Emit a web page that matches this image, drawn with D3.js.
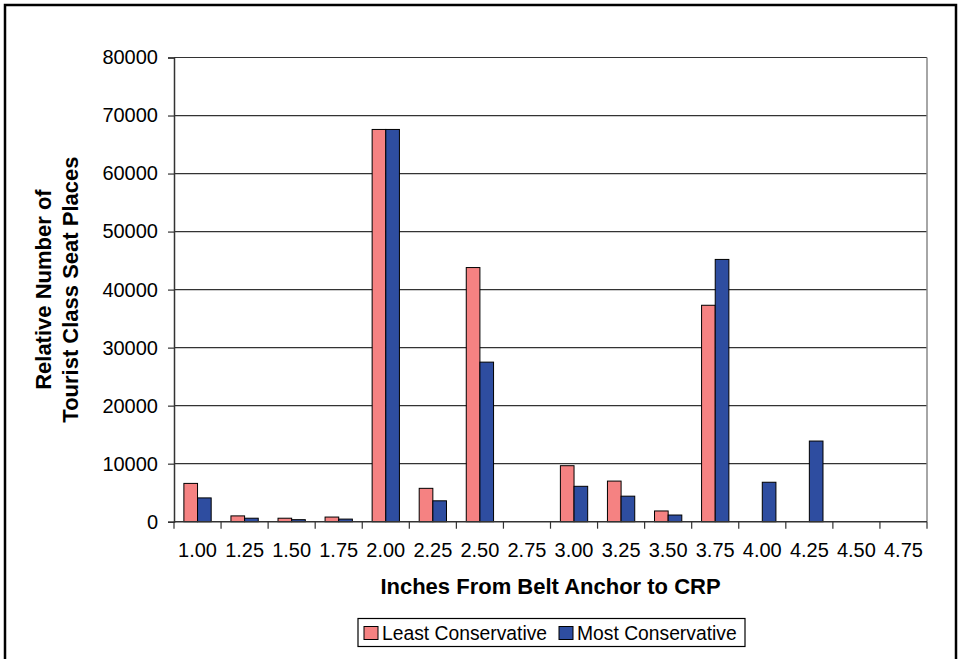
<!DOCTYPE html>
<html>
<head>
<meta charset="utf-8">
<script src="https://cdn.jsdelivr.net/npm/d3@7"></script>
<style>
  html, body { margin: 0; padding: 0; background: #fff; }
  svg { display: block; font-family: "Liberation Sans", Arial, sans-serif; }
</style>
</head>
<body>
<svg id="chart" width="961" height="659"></svg>
<script>
const categories = ["1.00","1.25","1.50","1.75","2.00","2.25","2.50","2.75","3.00","3.25","3.50","3.75","4.00","4.25","4.50","4.75"];
const seriesNames = ["Least Conservative", "Most Conservative"];
const leastConservative = [6600, 1000, 600, 800, 67600, 5750, 43800, 0, 9650, 7000, 1850, 37300, 0, 0, 0, 0];
const mostConservative  = [4100, 600, 350, 450, 67600, 3600, 27500, 0, 6100, 4400, 1150, 45200, 6800, 13900, 0, 0];
const yTicks = [0, 10000, 20000, 30000, 40000, 50000, 60000, 70000, 80000];
const colors = ["#F58282", "#2E4DA0"];

const svg = d3.select("#chart");
const W = 961, H = 659;
const plot = { left: 174, right: 927, top: 57.5, bottom: 521.7 };

// outer border
svg.append("rect").attr("x", 5).attr("y", 5).attr("width", W - 10).attr("height", H + 20)
  .attr("fill", "#fff").attr("stroke", "#000").attr("stroke-width", 2.5);

const x0 = d3.scaleBand().domain(categories).range([plot.left, plot.right]).padding(0);
const bw = x0.bandwidth();
const x1 = d3.scaleBand().domain(seriesNames).range([bw * 0.21, bw * 0.79]).padding(0);
const y = d3.scaleLinear().domain([0, 80000]).range([plot.bottom, plot.top]);

// gridlines
svg.append("g").selectAll("line").data(yTicks.filter(d => d > 0)).join("line")
  .attr("x1", plot.left).attr("x2", plot.right)
  .attr("y1", d => y(d)).attr("y2", d => y(d))
  .attr("stroke", "#333").attr("stroke-width", 1.2);

// plot border right
svg.append("line").attr("x1", plot.right).attr("x2", plot.right)
  .attr("y1", plot.top).attr("y2", plot.bottom).attr("stroke", "#888").attr("stroke-width", 1.5);

// bars
const data = categories.map((c, i) => ({ cat: c, vals: [leastConservative[i], mostConservative[i]] }));
const groups = svg.append("g").selectAll("g").data(data).join("g")
  .attr("transform", d => `translate(${x0(d.cat)},0)`);
groups.selectAll("rect")
  .data(d => d.vals.map((v, j) => ({ v, s: seriesNames[j], j })).filter(e => e.v > 0))
  .join("rect")
  .attr("x", e => x1(e.s))
  .attr("width", x1.bandwidth())
  .attr("y", e => y(e.v))
  .attr("height", e => y(0) - y(e.v))
  .attr("fill", e => colors[e.j])
  .attr("stroke", "#000").attr("stroke-width", 1);

// y axis
const yAxis = d3.axisLeft(y).tickValues(yTicks).tickSize(6).tickPadding(10).tickFormat(d3.format("d"));
const gy = svg.append("g").attr("transform", `translate(${plot.left},0)`).call(yAxis);
gy.select(".domain").attr("stroke", "#333").attr("stroke-width", 1.5);
gy.selectAll(".tick line").attr("stroke", "#333").attr("stroke-width", 1.2);
gy.selectAll(".tick text").attr("font-size", "20px").attr("fill", "#000")
  .attr("font-family", "'Liberation Sans', Arial, sans-serif");

// x axis (ticks at category boundaries)
const gx = svg.append("g").attr("transform", `translate(0,${plot.bottom})`);
gx.append("line").attr("x1", plot.left).attr("x2", plot.right).attr("y1", 0).attr("y2", 0)
  .attr("stroke", "#333").attr("stroke-width", 1.5);
const boundaries = categories.map(c => x0(c)).concat([plot.right]);
gx.selectAll("line.tk").data(boundaries).join("line").attr("class", "tk")
  .attr("x1", d => d).attr("x2", d => d).attr("y1", 0).attr("y2", 7)
  .attr("stroke", "#333").attr("stroke-width", 1.2);
gx.selectAll("text").data(categories).join("text")
  .attr("x", d => x0(d) + bw / 2).attr("y", 35)
  .attr("text-anchor", "middle").attr("font-size", "20px").attr("fill", "#000")
  .text(d => d);

// axis titles
svg.append("text").attr("x", (plot.left + plot.right) / 2).attr("y", 594)
  .attr("text-anchor", "middle").attr("font-size", "22px").attr("font-weight", "bold")
  .text("Inches From Belt Anchor to CRP");

const yt = svg.append("text").attr("transform", `translate(0,${(plot.top + plot.bottom) / 2}) rotate(-90)`)
  .attr("text-anchor", "middle").attr("font-size", "22px").attr("font-weight", "bold");
yt.append("tspan").attr("x", 0).attr("y", 51).text("Relative Number of");
yt.append("tspan").attr("x", 0).attr("y", 78).text("Tourist Class Seat Places");

// legend
const lg = svg.append("g");
lg.append("rect").attr("x", 358).attr("y", 618.5).attr("width", 387).attr("height", 28)
  .attr("fill", "#fff").attr("stroke", "#000").attr("stroke-width", 1.2);
const legendX = [364, 559];
seriesNames.forEach((s, i) => {
  lg.append("rect").attr("x", legendX[i]).attr("y", 626.5).attr("width", 14).attr("height", 13)
    .attr("fill", colors[i]).attr("stroke", "#000").attr("stroke-width", 1);
  lg.append("text").attr("x", legendX[i] + 18).attr("y", 640)
    .attr("font-size", "19.3px").attr("fill", "#000").text(s);
});
</script>
</body>
</html>
